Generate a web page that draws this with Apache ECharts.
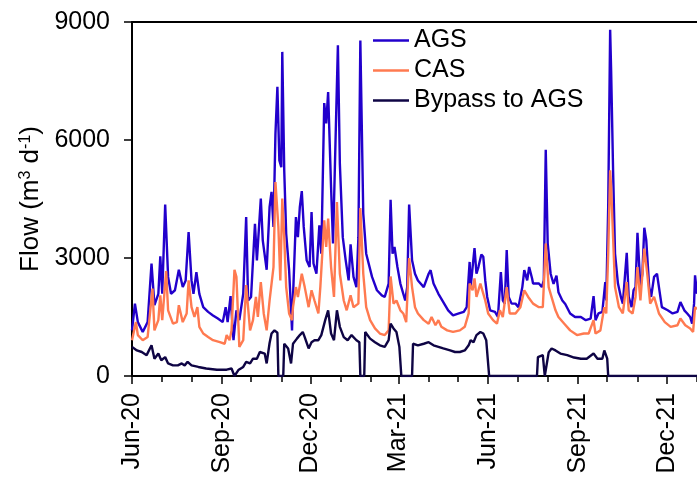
<!DOCTYPE html>
<html>
<head>
<meta charset="utf-8">
<script src="https://cdn.jsdelivr.net/npm/echarts@6/dist/echarts.min.js"></script>
<style>
  html, body { margin: 0; padding: 0; background: #fff; }
  #chart { width: 697px; height: 481px; }
</style>
</head>
<body>
<div id="chart"></div>
<script>
// Daily flow, m3 per day
const agsFlow = [
  ['2020-06-01',1160],['2020-06-04',1840],['2020-06-07',1370],['2020-06-12',1120],['2020-06-17',1370],
  ['2020-06-21',2860],['2020-06-24',1800],['2020-06-28',2090],['2020-06-30',3040],['2020-07-02',2090],
  ['2020-07-05',4360],['2020-07-08',2520],['2020-07-11',2090],['2020-07-15',2180],['2020-07-19',2700],
  ['2020-07-23',2260],['2020-07-26',2430],['2020-07-29',3660],['2020-08-01',2430],['2020-08-03',2090],
  ['2020-08-06',2640],['2020-08-09',2090],['2020-08-13',1750],['2020-08-18',1630],['2020-08-23',1540],
  ['2020-08-28',1460],['2020-09-02',1370],['2020-09-05',1750],['2020-09-07',1370],['2020-09-10',2030],
  ['2020-09-13',910],['2020-09-16',1670],['2020-09-19',1420],['2020-09-23',2090],['2020-09-26',4040],
  ['2020-09-28',1920],['2020-10-01',2010],['2020-10-05',3870],['2020-10-07',2940],['2020-10-11',4510],
  ['2020-10-13',3450],['2020-10-17',2700],['2020-10-20',4300],['2020-10-22',4680],['2020-10-24',3790],
  ['2020-10-26',6160],['2020-10-28',7350],['2020-10-30',5480],['2020-11-01',5310],['2020-11-02',8240],
  ['2020-11-04',5230],['2020-11-06',3620],['2020-11-09',2690],['2020-11-12',1160],['2020-11-13',2010],
  ['2020-11-16',4040],['2020-11-18',3530],['2020-11-20',4300],['2020-11-22',4700],['2020-11-24',3790],
  ['2020-11-27',2940],['2020-11-30',2770],['2020-12-02',4170],['2020-12-04',2860],['2020-12-07',2600],
  ['2020-12-10',3830],['2020-12-12',3110],['2020-12-15',6940],['2020-12-17',6420],['2020-12-19',7220],
  ['2020-12-22',4800],['2020-12-24',3370],['2020-12-27',6420],['2020-12-29',8410],['2020-12-31',5400],
  ['2021-01-03',3530],['2021-01-06',2940],['2021-01-09',2430],['2021-01-11',3350],['2021-01-14',2520],
  ['2021-01-17',2260],['2021-01-19',3530],['2021-01-21',8530],['2021-01-24',4130],['2021-01-27',3110],
  ['2021-02-02',2520],['2021-02-07',2180],['2021-02-12',2050],['2021-02-15',2010],['2021-02-19',2350],
  ['2021-02-21',4480],['2021-02-23',3110],['2021-02-25',3280],['2021-02-28',2770],['2021-03-03',2350],
  ['2021-03-08',1920],['2021-03-10',2260],['2021-03-12',4360],['2021-03-15',2940],['2021-03-18',2600],
  ['2021-03-21',2430],['2021-03-27',2260],['2021-04-01',2600],['2021-04-03',2690],['2021-04-06',2350],
  ['2021-04-11',2090],['2021-04-16',1880],['2021-04-21',1670],['2021-04-26',1540],['2021-05-02',1590],
  ['2021-05-07',1630],['2021-05-10',1750],['2021-05-13',2900],['2021-05-14',2260],['2021-05-18',3250],
  ['2021-05-20',2600],['2021-05-22',2770],['2021-05-25',3090],['2021-05-27',3030],['2021-05-29',2430],
  ['2021-05-31',2010],['2021-06-03',1670],['2021-06-08',1630],['2021-06-11',1500],['2021-06-14',2640],
  ['2021-06-16',1920],['2021-06-18',1840],['2021-06-20',3200],['2021-06-22',2010],['2021-06-25',1840],
  ['2021-06-29',1840],['2021-07-02',1750],['2021-07-06',2260],['2021-07-08',2690],['2021-07-11',2430],
  ['2021-07-13',2770],['2021-07-16',2480],['2021-07-17',2350],['2021-07-23',2350],['2021-07-26',2260],
  ['2021-07-28',2430],['2021-07-30',5750],['2021-08-01',3370],['2021-08-04',2600],['2021-08-07',2340],
  ['2021-08-10',2550],['2021-08-12',2130],['2021-08-16',1920],['2021-08-19',1830],['2021-08-24',1590],
  ['2021-08-29',1500],['2021-09-04',1500],['2021-09-09',1420],['2021-09-14',1460],['2021-09-17',2030],
  ['2021-09-19',1420],['2021-09-22',1590],['2021-09-26',1630],['2021-09-29',2390],['2021-09-30',1920],
  ['2021-10-02',4300],['2021-10-04',8800],['2021-10-05',7770],['2021-10-07',5230],['2021-10-09',3110],
  ['2021-10-12',2350],['2021-10-15',2010],['2021-10-17',1840],['2021-10-21',3130],['2021-10-23',2010],
  ['2021-10-26',1750],['2021-10-28',2180],['2021-10-30',2260],['2021-11-01',3640],['2021-11-04',2260],
  ['2021-11-06',2600],['2021-11-08',3770],['2021-11-10',3450],['2021-11-13',2260],['2021-11-15',2010],
  ['2021-11-18',2520],['2021-11-21',2600],['2021-11-23',2260],['2021-11-26',1750],['2021-12-02',1670],
  ['2021-12-07',1590],['2021-12-12',1630],['2021-12-15',1880],['2021-12-19',1670],['2021-12-22',1590],
  ['2021-12-25',1500],['2021-12-27',1330],['2021-12-29',1840],['2021-12-30',2560],['2022-01-01',2090]
];

const casFlow = [
  ['2020-06-01',910],['2020-06-05',1370],['2020-06-07',1040],['2020-06-12',910],['2020-06-17',990],
  ['2020-06-22',2220],['2020-06-24',1160],['2020-06-28',1420],['2020-06-30',2050],['2020-07-02',1420],
  ['2020-07-06',2670],['2020-07-08',1670],['2020-07-13',1330],['2020-07-17',1370],['2020-07-19',1800],
  ['2020-07-23',1370],['2020-07-27',1590],['2020-07-29',2430],['2020-08-01',1750],['2020-08-04',1500],
  ['2020-08-07',1750],['2020-08-09',1250],['2020-08-13',1080],['2020-08-18',990],['2020-08-23',910],
  ['2020-08-30',860],['2020-09-04',820],['2020-09-06',1040],['2020-09-09',910],['2020-09-11',1160],
  ['2020-09-14',2700],['2020-09-16',2520],['2020-09-19',740],['2020-09-23',910],['2020-09-26',2310],
  ['2020-09-30',1160],['2020-10-03',1420],['2020-10-06',2010],['2020-10-08',1500],['2020-10-11',2390],
  ['2020-10-14',1590],['2020-10-17',1160],['2020-10-20',1920],['2020-10-24',2770],['2020-10-26',4930],
  ['2020-10-29',3790],['2020-10-31',2430],['2020-11-02',4510],['2020-11-04',3530],['2020-11-06',2260],
  ['2020-11-09',1590],['2020-11-12',1420],['2020-11-13',1750],['2020-11-16',2260],['2020-11-18',2010],
  ['2020-11-22',2600],['2020-11-25',2260],['2020-11-29',1750],['2020-12-02',2180],['2020-12-05',1920],
  ['2020-12-09',1590],['2020-12-11',2260],['2020-12-15',3960],['2020-12-17',3280],['2020-12-19',4000],
  ['2020-12-22',2770],['2020-12-25',2010],['2020-12-28',4420],['2020-12-31',2600],['2021-01-04',1920],
  ['2021-01-07',1670],['2021-01-11',2050],['2021-01-14',1750],['2021-01-19',1840],['2021-01-21',4270],
  ['2021-01-24',2600],['2021-01-27',1750],['2021-01-31',1420],['2021-02-05',1210],['2021-02-10',1080],
  ['2021-02-15',1040],['2021-02-19',1160],['2021-02-21',2530],['2021-02-24',1840],['2021-02-27',1920],
  ['2021-03-03',1670],['2021-03-06',1590],['2021-03-09',1370],['2021-03-12',3000],['2021-03-15',2260],
  ['2021-03-18',1750],['2021-03-21',1590],['2021-03-27',1420],['2021-04-01',1330],['2021-04-04',1500],
  ['2021-04-08',1290],['2021-04-11',1420],['2021-04-14',1250],['2021-04-20',1160],['2021-04-26',1120],
  ['2021-05-03',1160],['2021-05-08',1250],['2021-05-12',1590],['2021-05-13',2350],['2021-05-16',2180],
  ['2021-05-18',2480],['2021-05-20',2010],['2021-05-24',2350],['2021-05-26',2390],['2021-05-29',1920],
  ['2021-06-01',1590],['2021-06-06',1420],['2021-06-10',1330],['2021-06-13',1670],['2021-06-16',1500],
  ['2021-06-20',2260],['2021-06-23',1590],['2021-06-29',1590],['2021-07-04',1750],['2021-07-08',2180],
  ['2021-07-12',2010],['2021-07-17',1840],['2021-07-23',1750],['2021-07-27',1750],['2021-07-30',3370],
  ['2021-08-02',2260],['2021-08-04',2090],['2021-08-09',1670],['2021-08-12',1500],['2021-08-18',1330],
  ['2021-08-24',1160],['2021-08-31',1040],['2021-09-07',1080],['2021-09-12',1080],['2021-09-17',1420],
  ['2021-09-19',1080],['2021-09-24',1160],['2021-09-28',1750],['2021-09-30',1590],['2021-10-02',3110],
  ['2021-10-04',5230],['2021-10-05',4800],['2021-10-07',3530],['2021-10-09',2260],['2021-10-13',1750],
  ['2021-10-17',1590],['2021-10-21',2390],['2021-10-23',1670],['2021-10-27',1590],['2021-10-30',2010],
  ['2021-11-01',2770],['2021-11-04',1920],['2021-11-08',3240],['2021-11-11',2600],['2021-11-14',1840],
  ['2021-11-18',2010],['2021-11-23',1590],['2021-11-29',1370],['2021-12-05',1250],['2021-12-12',1290],
  ['2021-12-15',1460],['2021-12-20',1290],['2021-12-25',1210],['2021-12-28',1120],['2021-12-30',1750],
  ['2022-01-01',1700]
];

const bypassFlow = [
  ['2020-06-01',740],['2020-06-06',650],['2020-06-11',610],['2020-06-16',530],['2020-06-21',780],
  ['2020-06-24',440],['2020-06-28',570],['2020-07-01',400],['2020-07-05',480],['2020-07-08',320],
  ['2020-07-13',270],['2020-07-18',270],['2020-07-22',320],['2020-07-25',270],['2020-07-28',360],
  ['2020-08-01',270],['2020-08-08',230],['2020-08-16',190],['2020-08-27',160],['2020-09-06',160],
  ['2020-09-11',190],['2020-09-14',0],['2020-09-18',150],['2020-09-23',230],['2020-09-26',360],
  ['2020-09-30',320],['2020-10-03',440],['2020-10-07',440],['2020-10-10',610],['2020-10-15',570],
  ['2020-10-17',320],['2020-10-20',840],['2020-10-22',1080],['2020-10-25',1160],['2020-10-28',1100],
  ['2020-10-29',0],['2020-11-03',0],['2020-11-04',820],['2020-11-08',700],['2020-11-11',320],
  ['2020-11-13',820],['2020-11-17',950],['2020-11-20',1040],['2020-11-23',1120],['2020-11-25',990],
  ['2020-11-29',700],['2020-12-02',860],['2020-12-05',910],['2020-12-09',910],['2020-12-12',1040],
  ['2020-12-16',1420],['2020-12-19',1670],['2020-12-22',1080],['2020-12-25',910],['2020-12-28',1670],
  ['2020-12-31',1250],['2021-01-04',990],['2021-01-08',910],['2021-01-12',1040],['2021-01-17',910],
  ['2021-01-20',860],['2021-01-21',0],['2021-01-25',0],['2021-01-26',1120],['2021-01-31',950],
  ['2021-02-05',860],['2021-02-10',780],['2021-02-15',740],['2021-02-19',910],['2021-02-21',1330],
  ['2021-02-24',1210],['2021-02-27',1120],['2021-03-02',740],['2021-03-04',0],['2021-03-15',0],
  ['2021-03-16',820],['2021-03-21',780],['2021-03-27',820],['2021-04-01',860],['2021-04-06',780],
  ['2021-04-11',740],['2021-04-16',700],['2021-04-23',650],['2021-04-28',610],['2021-05-03',610],
  ['2021-05-08',650],['2021-05-12',780],['2021-05-14',910],['2021-05-17',860],['2021-05-20',1040],
  ['2021-05-24',1120],['2021-05-27',1080],['2021-05-30',910],['2021-06-02',0],['2021-07-21',0],
  ['2021-07-22',480],['2021-07-24',530],['2021-07-27',530],['2021-07-29',0],['2021-07-31',0],
  ['2021-08-02',600],['2021-08-05',700],['2021-08-09',650],['2021-08-14',570],['2021-08-21',530],
  ['2021-08-28',470],['2021-09-04',440],['2021-09-10',440],['2021-09-17',570],['2021-09-21',440],
  ['2021-09-26',440],['2021-09-28',650],['2021-10-01',440],['2021-10-02',0],['2022-01-01',0]
];

const seriesNames = ['AGS', 'CAS', 'Bypass to AGS'];
const monthNames = ['Jan','Feb','Mar','Apr','May','Jun','Jul','Aug','Sep','Oct','Nov','Dec'];
const labelledMonths = [3, 6, 9, 12];
const yTicks = { min: 0, max: 9000, step: 3000 };

// one category per day, Jun 1 2020 .. Jan 1 2022
const days = [];
for (let t = Date.UTC(2020, 5, 1); t <= Date.UTC(2022, 0, 1); t += 86400000) {
  days.push(new Date(t).toISOString().slice(0, 10));
}
const isMonthStart = v => v.slice(8) === '01';
const isQuarterStart = v => isMonthStart(v) && labelledMonths.includes(+v.slice(5, 7));
const monthLabel = v => monthNames[+v.slice(5, 7) - 1] + '-' + v.slice(2, 4);

const FONT = 'Liberation Sans, Arial, sans-serif';
const GRID = { left: 132, right: 0, top: 22, bottom: 105 };

const chart = echarts.init(document.getElementById('chart'), null, { renderer: 'canvas' });

chart.setOption({
  animation: false,
  backgroundColor: '#ffffff',
  textStyle: { fontFamily: FONT },
  grid: GRID,
  legend: {
    orient: 'vertical',
    left: 373,
    top: 28,
    padding: 0,
    icon: 'rect',
    itemWidth: 36,
    itemHeight: 2.5,
    itemGap: 5,
    data: seriesNames,
    textStyle: { fontFamily: FONT, fontSize: 25, color: '#000', lineHeight: 25 }
  },
  xAxis: [
    {
      type: 'category',
      data: days,
      boundaryGap: false,
      position: 'bottom',
      axisLine: { show: true, lineStyle: { color: '#000', width: 2 } },
      axisTick: { show: true, inside: false, length: 6, interval: (i, v) => isMonthStart(v),
                  lineStyle: { color: '#000', width: 1.5 } },
      axisLabel: { show: true, interval: (i, v) => isQuarterStart(v), formatter: monthLabel,
                   rotate: 90, margin: 17, fontFamily: FONT, fontSize: 25, color: '#000' },
      splitLine: { show: false }
    },
    {
      type: 'category',
      data: days,
      boundaryGap: false,
      position: 'bottom',
      offset: 0,
      axisLine: { show: false },
      axisTick: { show: true, inside: false, length: 8, interval: (i, v) => isQuarterStart(v),
                  lineStyle: { color: '#000', width: 1.5 } },
      axisLabel: { show: false },
      splitLine: { show: false }
    },
    {
      type: 'category',
      data: days,
      boundaryGap: false,
      position: 'top',
      axisLine: { show: true, lineStyle: { color: '#000', width: 2 } },
      axisTick: { show: false },
      axisLabel: { show: false },
      splitLine: { show: false }
    }
  ],
  yAxis: {
    type: 'value',
    min: yTicks.min,
    max: yTicks.max,
    interval: yTicks.step,
    name: 'Flow (m{sup|3} d{sup|-1})',
    nameLocation: 'middle',
    nameRotate: 90,
    nameGap: 86,
    nameTextStyle: {
      fontFamily: FONT, fontSize: 26, color: '#000',
      rich: { sup: { fontFamily: FONT, fontSize: 16, color: '#000', verticalAlign: 'top' } }
    },
    axisLine: { show: true, lineStyle: { color: '#000', width: 2 } },
    axisTick: { show: true, inside: false, length: 8, lineStyle: { color: '#000', width: 1.5 } },
    axisLabel: { margin: 22, fontFamily: FONT, fontSize: 25, color: '#000', formatter: v => String(v) },
    splitLine: { show: false }
  },
  series: [
    { name: seriesNames[0], type: 'line', data: agsFlow, xAxisIndex: 0, symbol: 'none', showSymbol: false,
      color: '#2200cc', lineStyle: { color: '#2200cc', width: 2.4 } },
    { name: seriesNames[1], type: 'line', data: casFlow, xAxisIndex: 0, symbol: 'none', showSymbol: false,
      color: '#ff7a50', lineStyle: { color: '#ff7a50', width: 2.4 } },
    { name: seriesNames[2], type: 'line', data: bypassFlow, xAxisIndex: 0, symbol: 'none', showSymbol: false,
      color: '#0e0444', lineStyle: { color: '#0e0444', width: 2.4 } }
  ]
});
</script>
</body>
</html>
